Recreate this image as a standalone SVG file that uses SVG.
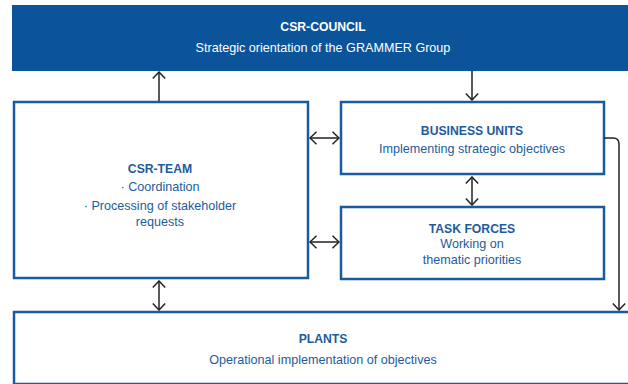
<svg xmlns="http://www.w3.org/2000/svg" width="628" height="384" viewBox="0 0 628 384">
<defs>
<marker id="ah" viewBox="0 0 12 14" refX="11" refY="7" markerWidth="12" markerHeight="14" markerUnits="userSpaceOnUse" orient="auto-start-reverse">
<path d="M4.5,0.8 L11,7 L4.5,13.2" fill="none" stroke="#222" stroke-width="1.5"/>
</marker>
<style>
.box{fill:#fff;stroke:#1a5a9e;stroke-width:2.5}
.band{fill:#0b5499}
.t{font-family:"Liberation Sans",Arial,sans-serif;font-size:12.6px;text-anchor:middle;fill:#1d5b9c}
.b{font-weight:bold;font-size:12.2px}
.w{fill:#fff}
.c{fill:none;stroke:#222;stroke-width:1.5}
</style>
</defs>
<rect width="628" height="384" fill="#fff"/>
<g id="csr-council">
<rect class="band" x="12" y="5" width="620" height="66"/>
<text class="t b w" x="323" y="31">CSR-COUNCIL</text>
<text class="t w" x="323" y="52">Strategic orientation of the GRAMMER Group</text>
</g>
<g id="csr-team">
<rect class="box" x="14" y="102" width="294" height="176"/>
<text class="t b" x="160" y="173">CSR-TEAM</text>
<text class="t" x="160" y="191">· Coordination</text>
<text class="t" x="160" y="210">· Processing of stakeholder</text>
<text class="t" x="160" y="226">requests</text>
</g>
<g id="business-units">
<rect class="box" x="341" y="102" width="263" height="72"/>
<text class="t b" x="472" y="135">BUSINESS UNITS</text>
<text class="t" x="472" y="153">Implementing strategic objectives</text>
</g>
<g id="task-forces">
<rect class="box" x="341" y="207" width="263" height="72"/>
<text class="t b" x="472" y="233">TASK FORCES</text>
<text class="t" x="472" y="248">Working on</text>
<text class="t" x="472" y="264">thematic priorities</text>
</g>
<g id="plants">
<rect class="box" x="14" y="312" width="620" height="72"/>
<text class="t b" x="323" y="343">PLANTS</text>
<text class="t" x="323" y="364">Operational implementation of objectives</text>
</g>
<g id="connectors">
<line class="c" x1="159" y1="101" x2="159" y2="72" marker-end="url(#ah)"/>
<line class="c" x1="472" y1="71" x2="472" y2="100" marker-end="url(#ah)"/>
<line class="c" x1="310" y1="138" x2="339" y2="138" marker-start="url(#ah)" marker-end="url(#ah)"/>
<line class="c" x1="310" y1="242" x2="339" y2="242" marker-start="url(#ah)" marker-end="url(#ah)"/>
<line class="c" x1="472" y1="177" x2="472" y2="205" marker-start="url(#ah)" marker-end="url(#ah)"/>
<line class="c" x1="159" y1="281" x2="159" y2="310" marker-start="url(#ah)" marker-end="url(#ah)"/>
<path class="c" d="M604,138 H613 Q619,138 619,144 V310" marker-end="url(#ah)"/>
</g>
</svg>
